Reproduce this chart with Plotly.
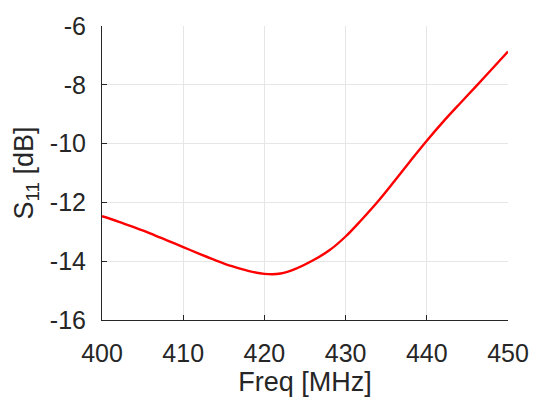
import plotly.graph_objects as go

freq = [400, 402, 404, 406, 408, 410, 412, 414, 416, 418, 420, 422, 424,
        426, 428, 430, 432, 434, 436, 438, 440, 442, 444, 446, 448, 450]
s11 = [-12.47, -12.65, -12.85, -13.06, -13.29, -13.52, -13.75, -13.97, -14.17,
       -14.33, -14.43, -14.42, -14.24, -13.97, -13.63, -13.16, -12.58,
       -11.96, -11.28, -10.58, -9.90, -9.26, -8.66, -8.07, -7.47, -6.87]

x_ticks = [400, 410, 420, 430, 440, 450]
y_ticks = [-16, -14, -12, -10, -8, -6]

fig = go.Figure()
fig.add_trace(go.Scatter(x=freq, y=s11, mode="lines",
                         line=dict(color="#ff0000", width=2.4, shape="spline", smoothing=1)))

font_family = "Liberation Sans, Arial, sans-serif"
axis_common = dict(
    showline=True, linecolor="#262626", linewidth=1,
    ticks="inside", ticklen=5, tickcolor="#262626", tickwidth=1,
    showgrid=True, gridcolor="#e6e6e6", gridwidth=1,
    zeroline=False,
    tickfont=dict(family=font_family, size=25, color="#262626"),
    title_font=dict(family=font_family, size=27, color="#262626"),
)

fig.update_layout(
    width=541, height=401,
    margin=dict(l=102, r=32, t=18, b=79),
    paper_bgcolor="white", plot_bgcolor="white",
    showlegend=False,
    xaxis=dict(range=[400, 450], tickvals=x_ticks, ticktext=[str(v) for v in x_ticks],
               title=dict(text="Freq [MHz]", standoff=3), ticklabelstandoff=11, **axis_common),
    yaxis=dict(range=[-16, -6], tickvals=y_ticks, ticktext=[str(v) for v in y_ticks],
               title=dict(text="S<sub>11</sub> [dB]", standoff=8), ticklabelstandoff=10, **axis_common),
)

fig.write_html("out.html")
